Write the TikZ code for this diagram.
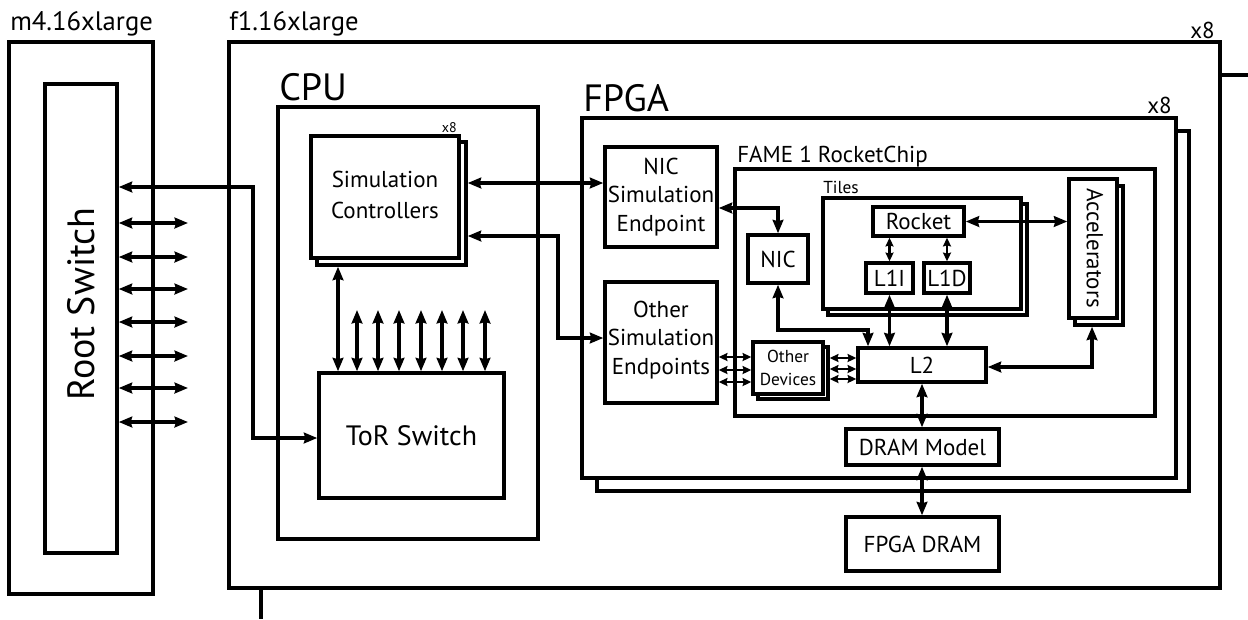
\documentclass[tikz,border=0pt]{standalone}
\usepackage{fontspec}
\setmainfont{PT Sans}
\usetikzlibrary{fit,arrows.meta}
\newcommand\myfA{\fontsize{17.25}{20.5}\selectfont}
\newcommand\myfBig{\fontsize{28.5}{32}\selectfont}
\newcommand\myfRS{\fontsize{28.5}{32}\selectfont}
\newcommand\myfToR{\fontsize{21}{25}\selectfont}
\newcommand\myfSm{\fontsize{13}{15.75}\selectfont}
\newcommand\myfLab{\fontsize{20}{24}\selectfont}
\newcommand\myfTiny{\fontsize{10.5}{12}\selectfont}
\begin{document}
\begin{tikzpicture}[x=0.75pt,y=-0.75pt,
  box/.style={draw,line width=2.6pt,inner sep=0pt,fill=white},
  arr/.style={line width=2.3pt,{Stealth[length=10pt,width=8pt,inset=1pt]}-{Stealth[length=10pt,width=8pt,inset=1pt]}},
  arrs/.style={line width=2pt,{Stealth[length=6.5pt,width=6pt,inset=0.8pt]}-{Stealth[length=6.5pt,width=6pt,inset=0.8pt]}},
  ln/.style={line width=2.6pt},
  lab/.style={inner sep=0pt,anchor=base west},
  txt/.style={inner sep=0pt,align=center,font=\myfA}]
\useasboundingbox (0,0) rectangle (1248,619);

% outer instances
\node[box,fit={(9,42)(153,594)}] (m4) {};
\node[lab,font=\myfLab] (m4lab) at (10,30) {m4.16xlarge};
\node[box,fit={(45,84)(117,553)}] (RS) {};
\node[txt,font=\myfRS,rotate=90] (RStxt) at (81,304) {Root Switch};

\node[box,fit={(229,42)(1220,588)}] (f1) {};
\node[lab,font=\myfLab] (f1lab) at (229,30) {f1.16xlarge};
\node[inner sep=0pt,anchor=base east,font=\myfA] (f1x8) at (1215,38) {x8};

% CPU
\node[box,fit={(278,107)(538,539)}] (CPU) {};
\node[lab,font=\myfBig] (CPUlab) at (279,100) {CPU};
\node[box,fit={(317,142)(466,265)}] (SCb) {};
\node[box,fit={(311,136)(459,258)}] (SC) {};
\node[txt] (SCt) at (385,195) {Simulation\\[3pt]Controllers};
\node[inner sep=0pt,anchor=base east,font=\myfTiny] (SCx8) at (457,132) {x8};
\node[box,fit={(319,373)(504,498)}] (ToR) {};
\node[txt,font=\myfToR] (ToRt) at (ToR.center) {ToR Switch};

% FPGA
\node[box,fit={(597,131)(1189,491)}] (FPGAb) {};
\node[box,fit={(582,118)(1176,478)}] (FPGA) {};
\node[lab,font=\myfBig] (FPGAlab) at (583,111) {FPGA};
\node[inner sep=0pt,anchor=base east,font=\myfA] (FPGAx8) at (1172,113) {x8};
\node[box,fit={(605,147)(717,247)}] (NICSE) {};
\node[txt] (NICSEt) at (NICSE.center) {NIC\\[1pt]Simulation\\[1pt]Endpoint};
\node[box,fit={(605,282)(717,403)}] (OSE) {};
\node[txt] (OSEt) at (661,340) {Other\\[1pt]Simulation\\[1pt]Endpoints};

\node[box,fit={(735,169)(1155,416)}] (FAME) {};
\node[lab,font=\myfA] (FAMElab) at (737,162) {FAME 1 RocketChip};
\node[box,fit={(748,235)(808,283)}] (NIC) {};
\node[txt] (NICt) at (NIC.center) {NIC};

\node[box,fit={(828,204)(1027,315)}] (Tilesb) {};
\node[box,fit={(823,198)(1021,309)}] (Tiles) {};
\node[lab,font=\myfSm] (Tileslab) at (823,193) {Tiles};
\node[box,fit={(873,207)(964,236)}] (Rocket) {};
\node[txt] (Rockett) at (Rocket.center) {Rocket};
\node[box,fit={(866,263)(913,293)}] (L1I) {};
\node[txt] (L1It) at (L1I.center) {L1I};
\node[box,fit={(924,263)(970,293)}] (L1D) {};
\node[txt] (L1Dt) at (L1D.center) {L1D};

\node[box,fit={(1075,186)(1123,325)}] (Accb) {};
\node[box,fit={(1069,179)(1117,318)}] (Acc) {};
\node[txt,rotate=-90] (Acctxt) at (1095,248) {Accelerators};

\node[box,fit={(858,348)(986,382)}] (L2) {};
\node[txt] (L2t) at (L2.center) {L2};
\node[box,fit={(758,347)(828,399)}] (ODb) {};
\node[box,fit={(753,342)(823,394)}] (OD) {};
\node[txt,font=\myfSm] (ODt) at (OD.center) {Other\\[1pt]Devices};

\node[box,fit={(846,429)(999,465)}] (DRAMM) {};
\node[txt] (DRAMMt) at (DRAMM.center) {DRAM Model};
\node[box,fit={(846,517)(999,571)}] (FDRAM) {};
\node[txt] (FDRAMt) at (FDRAM.center) {FPGA DRAM};

% free ends
\coordinate (rstub) at (1248,75);
\coordinate (bstub) at (261,619);
\draw[ln] (f1.east |- rstub) -- (rstub);
\draw[ln] (f1.south -| bstub) -- (bstub);

% root switch arrows
\draw[arr] (RS.east |- 0,187) -- (253,187) -- (253,438) -- (ToR.west |- 0,438);
\foreach \yy [count=\i] in {223,257,289,322,356,388,422} {
  \coordinate (rsend\i) at (188,\yy);
  \draw[arr] (RS.east |- rsend\i) -- (rsend\i);
}

% CPU arrows
\draw[arr] (SCb.east |- 0,183) -- (NICSE.west |- 0,183);
\draw[arr] (SCb.east |- 0,236) -- (558,236) -- (558,338) -- (OSE.west |- 0,338);
\draw[arr] (SCb.south -| 338,0) -- (ToR.north -| 338,0);
\foreach \xx [count=\i] in {357,378,399,421,442,463,485} {
  \coordinate (torend\i) at (\xx,310);
  \draw[arr] (ToR.north -| torend\i) -- (torend\i);
}

% FPGA arrows
\draw[arr] (NICSE.east |- 0,208) -- (NIC.north |- 0,208) -- (NIC.north);
\draw[arr] (NIC.south) -- (NIC.south |- 0,330) -- (868,330) -- (L2.north -| 868,0);
\draw[arrs] (L1I.north |- Rocket.south) -- (L1I.north);
\draw[arrs] (L1D.north |- Rocket.south) -- (L1D.north);
\draw[arr] (L1I.south) -- (L2.north -| L1I.south);
\draw[arr] (L1D.south) -- (L2.north -| L1D.south);
\draw[arr] (Rocket.east) -- (Acc.west |- Rocket.east);
\draw[arr] (L2.east |- 0,367) -- (1092,367) -- (Accb.south -| 1092,0);
\foreach \yy in {357,370,382} {
  \draw[arrs] (OSE.east |- 0,\yy) -- (OD.west |- 0,\yy);
}
\foreach \yy in {358,369,379} {
  \draw[arrs] (ODb.east |- 0,\yy) -- (L2.west |- 0,\yy);
}
\draw[arr] (L2.south -| 922,0) -- (DRAMM.north -| 922,0);
\draw[arr] (DRAMM.south -| 922,0) -- (FDRAM.north -| 922,0);
\end{tikzpicture}
\end{document}
